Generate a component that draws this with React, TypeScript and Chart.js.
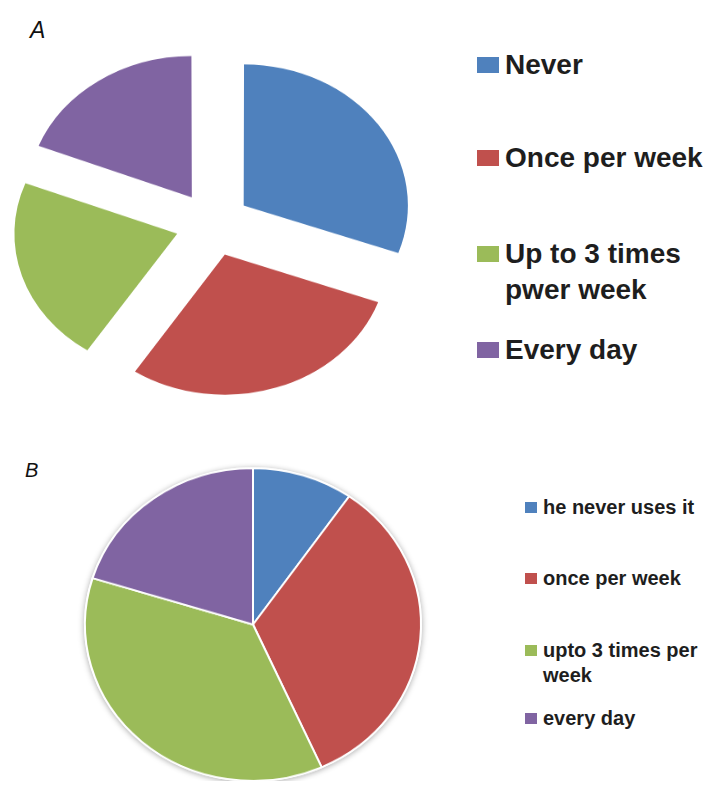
import React, { useEffect, useRef } from "react";
import { Chart, registerables } from "chart.js";

Chart.register(...registerables);

// ---- data ----
const sliceColors = ["#4F81BD", "#C0504D", "#9BBB59", "#8064A2"];

const labelsA = ["Never", "Once per week", "Up to 3 times pwer week", "Every day"];
const legendLinesA = [["Never"], ["Once per week"], ["Up to 3 times", "pwer week"], ["Every day"]];
const valuesA = [30.5, 28.8, 21.6, 19.1];

const labelsB = ["he never uses it", "once per week", "upto 3 times per week", "every day"];
const legendLinesB = [["he never uses it"], ["once per week"], ["upto 3 times per", "week"], ["every day"]];
const valuesB = [9.7, 33.6, 36.5, 20.2];

const FONT = '"Liberation Sans", Arial, sans-serif';

type PieProps = {
  labels: string[];
  values: number[];
  drawW: number;
  drawH: number;
  cssW: number;
  cssH: number;
  left: number;
  top: number;
  radius: number;
  offset: number;
  borderWidth: number;
  shadow?: boolean;
};

const shadowPlugin = {
  id: "pieShadow",
  beforeDatasetsDraw(chart: any) {
    const meta = chart.getDatasetMeta(0);
    const arc = meta && meta.data && meta.data[0];
    if (!arc) return;
    const ctx = chart.ctx;
    ctx.save();
    ctx.beginPath();
    ctx.arc(arc.x, arc.y, arc.outerRadius + 1, 0, Math.PI * 2);
    ctx.fillStyle = "#ffffff";
    ctx.shadowColor = "rgba(0,0,0,0.35)";
    ctx.shadowBlur = 6;
    ctx.shadowOffsetY = 1;
    ctx.fill();
    ctx.restore();
  },
};

function Pie(p: PieProps) {
  const ref = useRef<HTMLCanvasElement | null>(null);
  useEffect(() => {
    if (!ref.current) return;
    const chart = new Chart(ref.current, {
      type: "pie",
      data: {
        labels: p.labels,
        datasets: [
          {
            data: p.values,
            backgroundColor: sliceColors,
            borderColor: "#ffffff",
            borderWidth: p.borderWidth,
            offset: p.offset,
            hoverOffset: 0,
          },
        ],
      },
      options: {
        responsive: false,
        animation: false,
        radius: p.radius,
        events: [],
        layout: { padding: 0 },
        plugins: {
          legend: { display: false },
          tooltip: { enabled: false },
        },
      } as any,
      plugins: p.shadow ? [shadowPlugin as any] : [],
    });
    return () => chart.destroy();
  }, []);
  return (
    <canvas
      ref={ref}
      width={p.drawW}
      height={p.drawH}
      style={{
        position: "absolute",
        left: p.left,
        top: p.top,
        width: p.cssW + "px",
        height: p.cssH + "px",
      }}
    />
  );
}

type LegendProps = {
  lines: string[][];
  centers: number[];
  markerX: number;
  markerW: number;
  markerH: number;
  textX: number;
  fontSize: number;
  lineHeight: number;
};

function Legend(l: LegendProps) {
  return (
    <>
      {l.lines.map((ls, i) => (
        <React.Fragment key={i}>
          <div
            style={{
              position: "absolute",
              left: l.markerX,
              top: l.centers[i] - l.markerH / 2,
              width: l.markerW,
              height: l.markerH,
              background: sliceColors[i],
            }}
          />
          <div
            style={{
              position: "absolute",
              left: l.textX,
              top: l.centers[i] - l.lineHeight / 2,
              fontFamily: FONT,
              fontWeight: "bold",
              fontSize: l.fontSize,
              lineHeight: l.lineHeight + "px",
              color: "#1e1e1e",
              whiteSpace: "nowrap",
            }}
          >
            {ls.map((t, j) => (
              <div key={j}>{t}</div>
            ))}
          </div>
        </React.Fragment>
      ))}
    </>
  );
}

export default function App() {
  return (
    <div
      style={{
        position: "relative",
        width: 716,
        height: 789,
        margin: -8,
        overflow: "hidden",
        background: "#ffffff",
      }}
    >
      <div
        style={{
          position: "absolute",
          left: 30,
          top: 19,
          fontFamily: FONT,
          fontStyle: "italic",
          fontSize: 23,
          lineHeight: "23px",
          color: "#111",
        }}
      >
        A
      </div>
      <Pie
        labels={labelsA}
        values={valuesA}
        drawW={426}
        drawH={426}
        cssW={426}
        cssH={366}
        left={0}
        top={41}
        radius={162}
        offset={150}
        borderWidth={0}
      />
      <Legend
        lines={legendLinesA}
        centers={[65, 158, 254, 350]}
        markerX={477}
        markerW={22}
        markerH={16}
        textX={505}
        fontSize={28}
        lineHeight={36}
      />

      <div
        style={{
          position: "absolute",
          left: 25,
          top: 460,
          fontFamily: FONT,
          fontStyle: "italic",
          fontSize: 20,
          lineHeight: "20px",
          color: "#111",
        }}
      >
        B
      </div>
      <Pie
        labels={labelsB}
        values={valuesB}
        drawW={360}
        drawH={360}
        cssW={360}
        cssH={335}
        left={73}
        top={457}
        radius={168}
        offset={0}
        borderWidth={2}
        shadow
      />
      <Legend
        lines={legendLinesB}
        centers={[507, 578, 650, 718]}
        markerX={525}
        markerW={12}
        markerH={11}
        textX={543}
        fontSize={20}
        lineHeight={25}
      />
    </div>
  );
}
